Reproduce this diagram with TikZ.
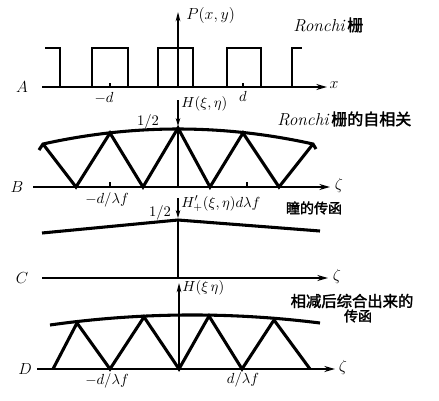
\documentclass[tikz,border=0pt]{standalone}
\usepackage{fontspec}
\newfontfamily\cjk{Noto Sans CJK SC}[FakeBold=2]
\usetikzlibrary{arrows.meta}
\begin{document}
\begin{tikzpicture}[x=0.75pt,y=-0.75pt,
  haxis/.style={line width=1.3pt,-{Stealth[length=8pt,width=4.5pt]}},
  vaxis/.style={line width=0.9pt},
  vup/.style={line width=0.9pt,-{Stealth[length=7pt,width=3.5pt]}},
  vdown/.style={line width=0.9pt,-{Stealth[length=6pt,width=3.5pt]}},
  sqwave/.style={line width=1.6pt,line join=miter},
  tri/.style={line width=2.3pt,line join=miter},
  env/.style={line width=2.3pt},
  tick/.style={line width=0.9pt},
  lbl/.style={font=\fontsize{11}{12}\selectfont,inner sep=0pt},
  big/.style={font=\fontsize{12}{13}\selectfont,inner sep=0pt},
  cn/.style={font=\cjk\fontsize{10.5}{12}\selectfont,inner sep=0pt},
  cnl/.style={font=\cjk\fontsize{11.5}{13}\selectfont,inner sep=0pt}]
\useasboundingbox (0,0) rectangle (439,400);
% ---------- A ----------
\coordinate (Aleft) at (42,87);
\coordinate (Aright) at (327,87);
\coordinate (Ao) at (178,87);
\coordinate (Atop) at (178,12);
\draw[haxis] (Aleft) -- (Aright);
\draw[vup] (Ao) -- (Atop);
\draw[sqwave] (45,48) -- (60,48) -- (60,87);
\draw[sqwave] (92,87) -- (92,48) -- (128,48) -- (128,87);
\draw[sqwave] (158,87) -- (158,48) -- (193,48) -- (193,87);
\draw[sqwave] (227,87) -- (227,48) -- (261,48) -- (261,87);
\draw[sqwave] (292,87) -- (292,48) -- (302,48);
\draw[tick] (110,87) -- (110,83);
\draw[tick] (243,87) -- (243,83);
\node[big] (lA) at (22,87) {$A$};
\node[big,anchor=west] (lP) at (186,15) {$P(x,y)$};
\node[big] (lx) at (334,85) {$x$};
\node[lbl] (lmd) at (104,98) {$-d$};
\node[lbl] (ld) at (243,96) {$d$};
\node[anchor=west,inner sep=0pt] (ronA) at (293,25) {\itshape\fontsize{13}{14}\selectfont Ronchi\kern2pt{\cjk\fontsize{12}{13}\selectfont 栅}};
% ---------- B ----------
\coordinate (Bleft) at (33,187);
\coordinate (Bright) at (330,187);
\coordinate (Bo) at (178,187);
\coordinate (Btop) at (178,100);
\coordinate (Bpk) at (178,128);
\draw[haxis] (Bleft) -- (Bright);
\draw[vdown] (Btop) -- (178,126);
\draw[vaxis] (Bpk) -- (Bo);
\draw[tri] (43,144) -- (76,187) -- (110,133) -- (143,187) -- (178,128) -- (210,187) -- (243,133) -- (279,187) -- (313,144);
\draw[env] (39,150) -- (43,144) .. controls (133,124) and (223,124) .. (313,144) -- (316,149);
\draw[tick] (110,187) -- (110,182);
\draw[tick] (247,187) -- (247,182);
\node[big] (lB) at (17,187) {$B$};
\node[big] (lz1) at (339,185) {$\zeta$};
\node[lbl] (lhalfB) at (148,122) {$1/2$};
\node[lbl,anchor=west] (lHB) at (181,104) {$H(\xi,\eta)$};
\node[lbl] (ldlfB) at (107,200) {$-d/\lambda f$};
\node[anchor=west,inner sep=0pt] (ronB) at (277,119) {\itshape\fontsize{13}{14}\selectfont Ronchi\kern2pt{\cjk\fontsize{12}{13}\selectfont 栅的自相关}};
% ---------- C ----------
\coordinate (Cleft) at (42,278);
\coordinate (Cright) at (328,278);
\coordinate (Co) at (178,278);
\coordinate (Ctop) at (178,198);
\coordinate (Cpk) at (178,220);
\draw[haxis] (Cleft) -- (Cright);
\draw[vdown] (Ctop) -- (178,218);
\draw[vaxis] (Cpk) -- (Co);
\draw[env] (42,233) -- (Cpk) -- (320,231);
\node[big] (lC) at (22,278) {$C$};
\node[big] (lz2) at (337,276) {$\zeta$};
\node[lbl] (lhalfC) at (160,213) {$1/2$};
\node[lbl,anchor=west] (lHC) at (181,204) {$H'_{+}(\xi,\eta)d\lambda f$};
\node[cn] (pupil) at (314,208) {瞳的传函};
% ---------- D ----------
\coordinate (Dleft) at (37,369);
\coordinate (Dright) at (335,369);
\coordinate (Do) at (179,369);
\coordinate (Dtop) at (179,283);
\draw[haxis] (Dleft) -- (Dright);
\draw[vup] (Do) -- (Dtop);
\draw[env] (50,325) .. controls (140,312.3) and (230,311.7) .. (320,323);
\draw[tri] (53,369) -- (77,323) -- (110,369) -- (144,317) -- (179,369) -- (209,316) -- (242,369) -- (274,320) -- (310,369);
\node[big] (lD) at (25,369) {$D$};
\node[big] (lz3) at (343,367) {$\zeta$};
\node[lbl,anchor=west] (lHD) at (182,288) {$H(\xi\,\eta)$};
\node[lbl] (ldlfD1) at (107,381) {$-d/\lambda f$};
\node[lbl] (ldlfD2) at (243,380) {$d/\lambda f$};
\node[cnl] (sub1) at (352,301) {相减后综合出来的};
\node[cn] (sub2) at (358,316) {传函};
\end{tikzpicture}
\end{document}
